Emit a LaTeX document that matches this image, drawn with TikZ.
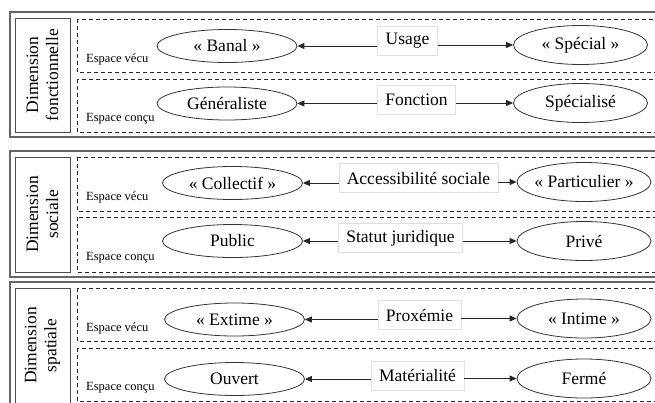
\documentclass[tikz,border=0pt]{standalone}
\usepackage{fontspec}
\setmainfont{Liberation Serif}
\usetikzlibrary{shapes.geometric,arrows.meta}
\newcommand{\pt}[1]{\makebox[0pt][c]{#1}}
\begin{document}
\begin{tikzpicture}[x=1pt,y=-1pt,
 outer/.style={draw=black!60, line width=1.3pt},
 dimbox/.style={draw=black!70, line width=0.8pt},
 dashbox/.style={draw=black!85, line width=0.8pt, dash pattern=on 4pt off 3pt},
 pole/.style={ellipse, draw=black!80, line width=0.8pt, inner sep=0pt, font=\fontsize{17.5}{20}\selectfont},
 lpole/.style={pole, minimum width=140pt, minimum height=33pt},
 rpole/.style={pole, minimum width=134pt, minimum height=39pt},
 axis/.style={draw=black!12, fill=white, line width=0.6pt, font=\fontsize{17.5}{20}\selectfont, inner xsep=8pt, inner ysep=0pt, minimum height=29pt},
 espace/.style={font=\fontsize{12.5}{14}\selectfont, anchor=base west, inner sep=0pt},
 dimlab/.style={rotate=90, align=center, font=\fontsize{17.5}{20}\selectfont},
 link/.style={draw=black!85, line width=0.9pt, -{Triangle[length=7pt,width=6pt]}}
]
\useasboundingbox (0,0) rectangle (655,402);
\clip (0,0) rectangle (655,402);

% outer frames
\draw[outer] (10,12) rectangle (690,137);
\draw[outer] (10,151) rectangle (690,277);
\draw[outer] (10,282) rectangle (690,410);

% dimension label boxes
\draw[dimbox] (15,18) rectangle (70,132);
\draw[dimbox] (15,157) rectangle (70,272);
\draw[dimbox] (15,288) rectangle (70,404);
\node[dimlab] (d1) at (42.5,75) {Dimension\\fonctionnelle};
\node[dimlab] (d2) at (42.5,214.5) {Dimension\\sociale};
\node[dimlab] (d3) at (42.5,345.5) {Dimension\\spatiale};

% dashed rows
\draw[dashbox] (77,19) rectangle (690,72);
\draw[dashbox] (77,79) rectangle (690,132);
\draw[dashbox] (77,157) rectangle (690,211);
\draw[dashbox] (77,217) rectangle (690,272);
\draw[dashbox] (77,288) rectangle (690,341);
\draw[dashbox] (77,348) rectangle (690,401);

% espace labels
\node[espace] (s1) at (86,62) {Espace vécu};
\node[espace] (s2) at (86,121) {Espace conçu};
\node[espace] (s3) at (86,200) {Espace vécu};
\node[espace] (s4) at (86,260) {Espace conçu};
\node[espace] (s5) at (86,331) {Espace vécu};
\node[espace] (s6) at (86,390) {Espace conçu};

% row 1
\node[lpole] (l1) at (227,46) {\pt{«~Banal~»}};
\node[rpole] (r1) at (580.5,45) {\pt{«~Spécial~»}};
\node[axis] (a1) at (407.5,41) {Usage};
% row 2
\node[lpole] (l2) at (227,103.5) {\pt{Généraliste}};
\node[rpole] (r2) at (580.5,103) {\pt{Spécialisé}};
\node[axis] (a2) at (416.5,100) {Fonction};
% row 3
\node[lpole] (l3) at (232.5,183) {\pt{«~Collectif~»}};
\node[rpole] (r3) at (584,182) {\pt{«~Particulier~»}};
\node[axis] (a3) at (418.5,178) {Accessibilité sociale};
% row 4
\node[lpole] (l4) at (232.5,241) {\pt{Public}};
\node[rpole] (r4) at (584,241) {\pt{Privé}};
\node[axis] (a4) at (400.5,238) {Statut juridique};
% row 5
\node[lpole] (l5) at (234.5,319.5) {\pt{«~Extime~»}};
\node[rpole] (r5) at (584,318.5) {\pt{«~Intime~»}};
\node[axis] (a5) at (419.5,315) {Proxémie};
% row 6
\node[lpole] (l6) at (234.5,379) {\pt{Ouvert}};
\node[rpole] (r6) at (584,378.5) {\pt{Fermé}};
\node[axis] (a6) at (417.5,375.5) {Matérialité};

% connectors
\foreach \i in {1,...,6}{
  \draw[link] (a\i.west |- l\i.east) -- (l\i.east);
  \draw[link] (a\i.east |- r\i.west) -- (r\i.west);
}
\end{tikzpicture}
\end{document}
